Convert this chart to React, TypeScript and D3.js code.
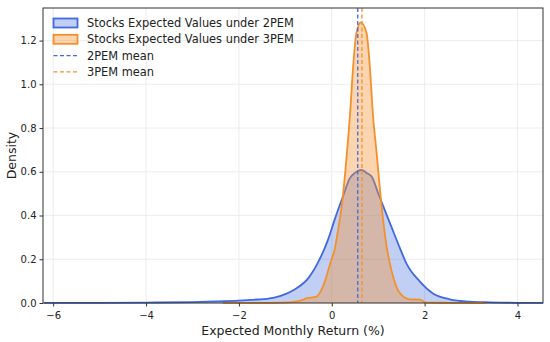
import { useEffect, useRef } from "react";
import * as d3 from "d3";

type T_Point = { x: number; y: number };

// 2PEM density estimate
const pem2X = [-6.2, -5, -4, -3, -2.5, -2, -1.6, -1.4, -1.1, -0.8, -0.5, -0.25, -0.08, 0.06, 0.24, 0.39, 0.5, 0.64, 0.75, 0.86, 1.0, 1.14, 1.3, 1.47, 1.61, 1.9, 2.18, 2.54, 2.97, 3.4, 4.0, 4.55];
const pem2Y = [0.001, 0.001, 0.002, 0.004, 0.007, 0.011, 0.016, 0.019, 0.033, 0.062, 0.115, 0.205, 0.29, 0.38, 0.487, 0.571, 0.595, 0.609, 0.595, 0.578, 0.502, 0.426, 0.34, 0.25, 0.18, 0.098, 0.044, 0.017, 0.006, 0.003, 0.001, 0.001];

// 3PEM density estimate
const pem3X = [-2.35, -1.5, -1.06, -0.69, -0.55, -0.33, -0.19, -0.01, 0.06, 0.1, 0.24, 0.35, 0.39, 0.46, 0.53, 0.625, 0.75, 0.82, 0.89, 0.96, 1.07, 1.18, 1.29, 1.39, 1.57, 1.68, 1.9, 2.04, 2.5, 3.3];
const pem3Y = [0.001, 0.001, 0.002, 0.01, 0.021, 0.029, 0.075, 0.197, 0.243, 0.288, 0.49, 0.746, 0.853, 1.08, 1.234, 1.283, 1.234, 1.08, 0.853, 0.7, 0.45, 0.26, 0.145, 0.075, 0.025, 0.017, 0.015, 0.002, 0.001, 0.0005];

const means = [0.56, 0.65];
const xTicks = [-6, -4, -2, 0, 2, 4];
const yTicks = [0, 0.2, 0.4, 0.6, 0.8, 1.0, 1.2];
const seriesNames = ["Stocks Expected Values under 2PEM", "Stocks Expected Values under 3PEM"];
const meanNames = ["2PEM mean", "3PEM mean"];

const BLUE = "#4169e1";
const ORANGE = "#f4902c";

export default function App() {
  const svgRef = useRef<SVGSVGElement>(null);

  useEffect(() => {
    if (!svgRef.current) return;
    const W = 550;
    const H = 342;
    const margin = { top: 8, right: 7, bottom: 39, left: 43 };
    const width = W - margin.left - margin.right;
    const height = H - margin.top - margin.bottom;

    const svg = d3.select(svgRef.current);
    svg.selectAll("*").remove();
    svg.attr("width", W).attr("height", H).attr("viewBox", `0 0 ${W} ${H}`);
    svg.style("font-family", "DejaVu Sans, sans-serif");

    const chart = svg
      .append("g")
      .attr("transform", `translate(${margin.left},${margin.top})`);

    const xScale = d3.scaleLinear().domain([-6.22, 4.55]).range([0, width]);
    const yScale = d3.scaleLinear().domain([0, 1.349]).range([height, 0]);

    // grid
    chart
      .append("g")
      .selectAll("line")
      .data(xTicks)
      .enter()
      .append("line")
      .attr("x1", (d) => xScale(d))
      .attr("x2", (d) => xScale(d))
      .attr("y1", 0)
      .attr("y2", height)
      .attr("stroke", "#e8e8e8")
      .attr("stroke-width", 0.8);
    chart
      .append("g")
      .selectAll("line")
      .data(yTicks)
      .enter()
      .append("line")
      .attr("x1", 0)
      .attr("x2", width)
      .attr("y1", (d) => yScale(d))
      .attr("y2", (d) => yScale(d))
      .attr("stroke", "#e8e8e8")
      .attr("stroke-width", 0.8);

    const series: T_Point[][] = [
      pem2X.map((x, i) => ({ x, y: pem2Y[i] })),
      pem3X.map((x, i) => ({ x, y: pem3Y[i] })),
    ];
    const colors = [BLUE, ORANGE];

    const area = d3
      .area<T_Point>()
      .x((d) => xScale(d.x))
      .y0(yScale(0))
      .y1((d) => yScale(d.y))
      .curve(d3.curveMonotoneX);
    const line = d3
      .line<T_Point>()
      .x((d) => xScale(d.x))
      .y((d) => yScale(d.y))
      .curve(d3.curveMonotoneX);

    series.forEach((s, i) => {
      chart
        .append("path")
        .datum(s)
        .attr("fill", colors[i])
        .attr("fill-opacity", i === 0 ? 0.32 : 0.38)
        .attr("d", area);
      chart
        .append("path")
        .datum(s)
        .attr("fill", "none")
        .attr("stroke", colors[i])
        .attr("stroke-width", 1.8)
        .attr("d", line);
    });

    // mean lines
    chart
      .selectAll(".mean")
      .data(means)
      .enter()
      .append("line")
      .attr("class", "mean")
      .attr("x1", (d) => xScale(d))
      .attr("x2", (d) => xScale(d))
      .attr("y1", 0)
      .attr("y2", height)
      .attr("stroke", (_d, i) => colors[i])
      .attr("stroke-width", 1.3)
      .attr("stroke-dasharray", "4,2.5");

    // axes
    const xAxis = chart
      .append("g")
      .attr("transform", `translate(0,${height})`)
      .call(
        d3
          .axisBottom(xScale)
          .tickValues(xTicks)
          .tickSize(3.5)
          .tickFormat((d) => d3.format("d")(d as number).replace("-", "\u2212")),
      );
    const yAxis = chart.append("g").call(
      d3
        .axisLeft(yScale)
        .tickValues(yTicks)
        .tickSize(3.5)
        .tickFormat(d3.format(".1f")),
    );
    [xAxis, yAxis].forEach((ax) => {
      ax.select(".domain").remove();
      ax.selectAll("line").attr("stroke", "#333");
      ax.selectAll("text")
        .attr("fill", "#222")
        .style("font-size", "10px")
        .style("font-family", "DejaVu Sans, sans-serif");
    });
    xAxis.selectAll("text").attr("dy", "0.95em");

    // frame
    chart
      .append("rect")
      .attr("width", width)
      .attr("height", height)
      .attr("fill", "none")
      .attr("stroke", "#333")
      .attr("stroke-width", 1);

    // labels
    svg
      .append("text")
      .attr("x", margin.left + width / 2)
      .attr("y", 335)
      .attr("text-anchor", "middle")
      .attr("fill", "#222")
      .style("font-size", "12.5px")
      .text("Expected Monthly Return (%)");
    svg
      .append("text")
      .attr("transform", `translate(16,${margin.top + height / 2}) rotate(-90)`)
      .attr("text-anchor", "middle")
      .attr("fill", "#222")
      .style("font-size", "12.5px")
      .text("Density");

    // legend
    const legend = svg.append("g").attr("transform", "translate(53,23)");
    seriesNames.forEach((name, i) => {
      const g = legend.append("g").attr("transform", `translate(0,${i * 16.3})`);
      g.append("rect")
        .attr("x", 0.5)
        .attr("y", -4.5)
        .attr("width", 24)
        .attr("height", 9)
        .attr("fill", colors[i])
        .attr("fill-opacity", i === 0 ? 0.32 : 0.38)
        .attr("stroke", colors[i])
        .attr("stroke-width", 1.8);
      g.append("text")
        .attr("x", 34)
        .attr("y", 0)
        .attr("dy", "0.35em")
        .attr("fill", "#222")
        .style("font-size", "11.4px")
        .text(name);
    });
    meanNames.forEach((name, i) => {
      const g = legend
        .append("g")
        .attr("transform", `translate(0,${(i + 2) * 16.3})`);
      g.append("line")
        .attr("x1", 0.5)
        .attr("x2", 25)
        .attr("stroke", colors[i])
        .attr("stroke-width", 1.3)
        .attr("stroke-dasharray", "4,2.5");
      g.append("text")
        .attr("x", 34)
        .attr("y", 0)
        .attr("dy", "0.35em")
        .attr("fill", "#222")
        .style("font-size", "11.4px")
        .text(name);
    });
  }, []);

  return (
    <div style={{ position: "absolute", left: 0, top: 0, width: 550, height: 342 }}>
      <svg ref={svgRef} style={{ display: "block" }} />
    </div>
  );
}
